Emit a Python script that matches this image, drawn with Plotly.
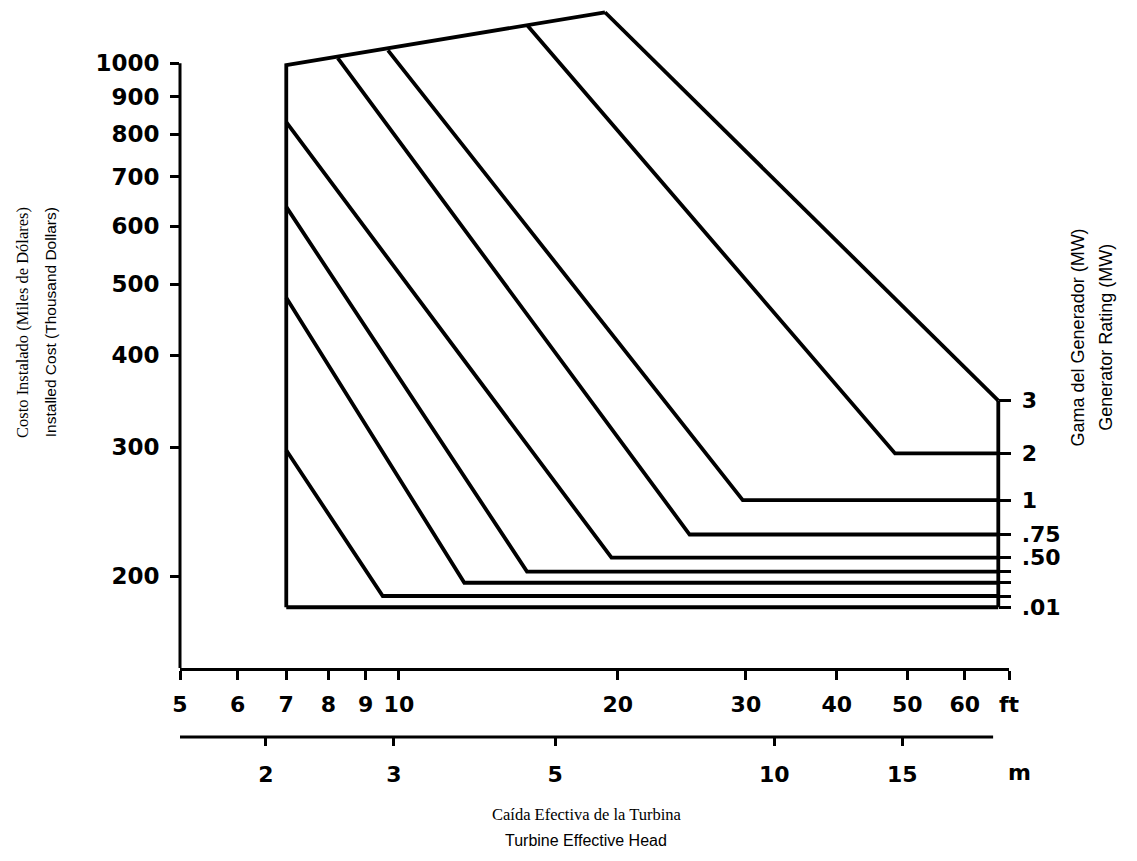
import math
import plotly.graph_objects as go

FT_PER_M = 3.2808

# ------------------------
# Axis extents / ticks
# ------------------------
HEAD_MIN, HEAD_MAX = 5, 69          # ft
COST_MIN, COST_MAX = 150, 1200      # thousand dollars
COST_AXIS_TOP = 1000                # y axis line stops here
METRE_LINE_END = 20                 # m

cost_ticks = [200, 300, 400, 500, 600, 700, 800, 900, 1000]
head_ticks = [5, 6, 7, 8, 9, 10, 20, 30, 40, 50, 60, 69]
head_tick_text = ["5", "6", "7", "8", "9", "10", "20", "30", "40", "50", "60", "ft"]
metre_ticks = [2, 3, 5, 10, 15]

# ------------------------
# Generator rating curves (MW): start -> knee -> flat to right edge
# ------------------------
rating_labels = ["3", "2", "1", ".75", ".50", "", "", "", ".01"]
start_head = [19.2, 15.0, 9.66, 8.24, 7.0, 7.0, 7.0, 7.0, 7.0]
start_cost = [1173, 1127, 1041, 1016, 831, 637, 479, 297, 181.5]
knee_head = [66.7, 48.1, 29.7, 25.1, 19.6, 15.0, 12.3, 9.5, 7.0]
knee_cost = [347, 294, 254, 228, 212, 203, 196, 188, 181.5]
END_HEAD = 66.7

# outline: left edge + top edge, right edge
left_head = [7.0, 7.0, 19.2]
left_cost = [181.5, 994, 1173]
right_head = [66.7, 66.7]
right_cost = [347, 181.5]

# ------------------------
# Layout geometry
# ------------------------
W, H = 1137, 861
M_L, M_R, M_T, M_B = 180, 128, 5, 100
Y_DOMAIN_BOTTOM = 0.123
METRE_AXIS_POS = 0.0317

LINE = dict(color="black", width=3.8)
TICK_FONT = dict(family="DejaVu Sans", size=22, color="black", weight="bold")


def xfrac(ft):
    lo, hi = math.log10(HEAD_MIN), math.log10(HEAD_MAX)
    return (math.log10(ft) - lo) / (hi - lo)


def yfrac(cost):
    lo, hi = math.log10(COST_MIN), math.log10(COST_MAX)
    return (math.log10(cost) - lo) / (hi - lo)


fig = go.Figure()

for i in range(len(rating_labels)):
    fig.add_trace(go.Scatter(
        x=[start_head[i], knee_head[i], END_HEAD],
        y=[start_cost[i], knee_cost[i], knee_cost[i]],
        mode="lines", line=LINE, showlegend=False,
        name=rating_labels[i] or "rating",
    ))

fig.add_trace(go.Scatter(x=left_head, y=left_cost, mode="lines",
                         line=LINE, showlegend=False))
fig.add_trace(go.Scatter(x=right_head, y=right_cost, mode="lines",
                         line=LINE, showlegend=False))

# empty traces so the secondary axes get drawn
fig.add_trace(go.Scatter(x=[], y=[], xaxis="x", yaxis="y2", showlegend=False))
fig.add_trace(go.Scatter(x=[], y=[], xaxis="x2", yaxis="y", showlegend=False))

fig.update_layout(
    width=W, height=H,
    paper_bgcolor="white", plot_bgcolor="white",
    margin=dict(l=M_L, r=M_R, t=M_T, b=M_B),
    font=dict(family="DejaVu Sans", color="black"),
    xaxis=dict(
        type="log", range=[math.log10(HEAD_MIN), math.log10(HEAD_MAX)],
        domain=[0, 1], anchor="y",
        tickvals=head_ticks, ticktext=head_tick_text,
        ticks="outside", ticklen=9, tickwidth=3, tickcolor="black",
        showline=True, linecolor="black", linewidth=3,
        showgrid=False, zeroline=False, tickfont=TICK_FONT,
        ticklabelstandoff=6,
    ),
    xaxis2=dict(
        type="log",
        range=[math.log10(HEAD_MIN / FT_PER_M), math.log10(HEAD_MAX / FT_PER_M)],
        overlaying="x", anchor="free", position=METRE_AXIS_POS, side="bottom",
        tickvals=metre_ticks, ticktext=[str(v) for v in metre_ticks],
        ticks="outside", ticklen=8, tickwidth=3, tickcolor="black",
        showline=False, showgrid=False, zeroline=False, tickfont=TICK_FONT,
        ticklabelstandoff=10,
    ),
    yaxis=dict(
        type="log", range=[math.log10(COST_MIN), math.log10(COST_MAX)],
        domain=[Y_DOMAIN_BOTTOM, 1], anchor="x",
        tickvals=cost_ticks, ticks="outside", ticklen=9, tickwidth=3,
        tickcolor="black", showline=False, showgrid=False, zeroline=False,
        tickfont=dict(TICK_FONT, size=23), ticklabelstandoff=6,
    ),
    yaxis2=dict(
        type="log", range=[math.log10(COST_MIN), math.log10(COST_MAX)],
        overlaying="y", anchor="free", position=xfrac(END_HEAD), side="right",
        tickvals=knee_cost, ticktext=rating_labels,
        ticks="outside", ticklen=12, tickwidth=3, tickcolor="black",
        showline=False, showgrid=False, zeroline=False, tickfont=TICK_FONT,
        ticklabelstandoff=6,
    ),
    shapes=[
        # y axis line, stops at 1000
        dict(type="line", xref="x domain", yref="y domain",
             x0=0, x1=0, y0=0, y1=yfrac(COST_AXIS_TOP),
             line=dict(color="black", width=3)),
        # metre scale line
        dict(type="line", xref="x domain", yref="paper",
             x0=0, x1=xfrac(METRE_LINE_END * FT_PER_M),
             y0=METRE_AXIS_POS, y1=METRE_AXIS_POS,
             line=dict(color="black", width=3)),
    ],
)

serif = "Liberation Serif"
sans = "Liberation Sans"
annotations = [
    dict(text="Costo Instalado (Miles de Dólares)", x=-0.19, y=0.58,
         textangle=-90, font=dict(family=serif, size=16.5)),
    dict(text="Installed Cost (Thousand Dollars)", x=-0.156, y=0.58,
         textangle=-90, font=dict(family=sans, size=15.5)),
    dict(text="Gama del Generador (MW)", x=1.083, y=0.56,
         textangle=-90, font=dict(family=sans, size=18)),
    dict(text="Generator Rating (MW)", x=1.116, y=0.56,
         textangle=-90, font=dict(family=sans, size=18)),
    dict(text="Caída Efectiva de la Turbina", x=0.49, y=-0.071,
         font=dict(family=serif, size=16.5)),
    dict(text="Turbine Effective Head", x=0.49, y=-0.105,
         font=dict(family=sans, size=16)),
    dict(text="m", x=1.013, y=-0.0146, font=TICK_FONT),
]
for a in annotations:
    fig.add_annotation(xref="paper", yref="paper", showarrow=False,
                       xanchor="center", yanchor="middle", **a)

# page body has a default 8px margin; drop it so the figure sits at 0,0
fig.write_html("out.html", config={"displayModeBar": False},
               post_script="document.body.style.margin='0px';")
